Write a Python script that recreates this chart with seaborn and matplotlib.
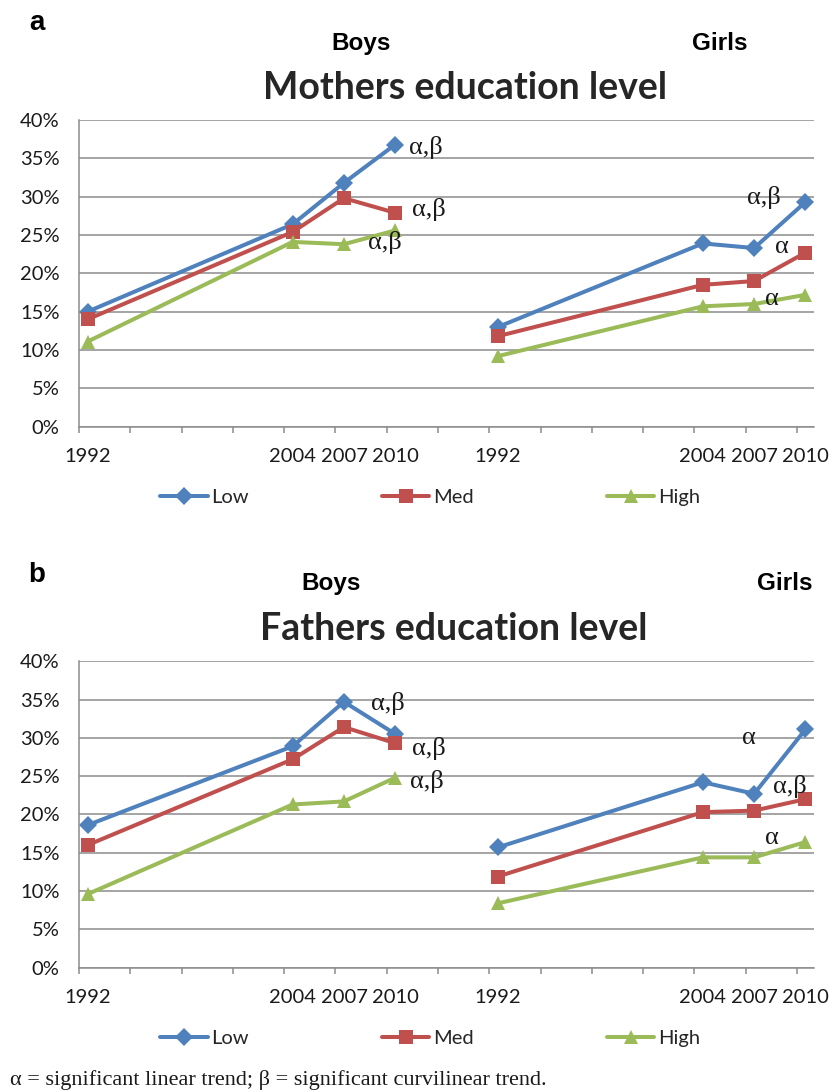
import numpy as np
import pandas as pd
import seaborn as sns
import matplotlib
matplotlib.use("Agg")
import matplotlib.pyplot as plt
from matplotlib.ticker import FuncFormatter

# survey years and education groups
years = [1992, 2004, 2007, 2010]
levels = ["Low", "Med", "High"]
girls_gap = 24  # empty stretch of the year axis between boys and girls blocks

# a: mothers education level (%)
mothers_boys_low = [15.0, 26.4, 31.8, 36.8]
mothers_boys_med = [14.0, 25.4, 29.8, 27.9]
mothers_boys_high = [11.1, 24.1, 23.8, 25.6]
mothers_girls_low = [13.0, 23.9, 23.3, 29.3]
mothers_girls_med = [11.8, 18.5, 19.0, 22.7]
mothers_girls_high = [9.2, 15.7, 16.0, 17.2]

# b: fathers education level (%)
fathers_boys_low = [18.6, 28.9, 34.7, 30.5]
fathers_boys_med = [16.0, 27.2, 31.4, 29.3]
fathers_boys_high = [9.6, 21.3, 21.7, 24.8]
fathers_girls_low = [15.7, 24.2, 22.7, 31.1]
fathers_girls_med = [11.9, 20.3, 20.5, 22.0]
fathers_girls_high = [8.4, 14.4, 14.4, 16.4]

# trend marks: (sex, level, year, text, dx, dy, ha) offsets in points
notes_a = [("Boys", "Low", 2010, "α,β", 10, -2, "left"),
           ("Boys", "Med", 2010, "α,β", 12, 2, "left"),
           ("Boys", "High", 2007, "α,β", 17, 1, "left"),
           ("Girls", "Low", 2010, "α,β", -18, 3, "right"),
           ("Girls", "Med", 2010, "α", -17, 4, "center"),
           ("Girls", "High", 2010, "α", -24, -3, "center")]
notes_b = [("Boys", "Low", 2010, "α,β", -5, 22, "center"),
           ("Boys", "Med", 2010, "α,β", 12, -4, "left"),
           ("Boys", "High", 2010, "α,β", 11, -3, "left"),
           ("Girls", "Low", 2010, "α", -41, -6, "center"),
           ("Girls", "Med", 2010, "α,β", -11, 9, "center"),
           ("Girls", "High", 2010, "α", -24, 3, "center")]


def long_table(boys, girls):
    rows = []
    for sex, series, shift in (("Boys", boys, 0), ("Girls", girls, girls_gap)):
        for level, vals in zip(levels, series):
            for yr, v in zip(years, vals):
                rows.append({"sex": sex, "level": level, "year": yr,
                             "x": yr + shift, "pct": v})
    return pd.DataFrame(rows)


df_a = long_table([mothers_boys_low, mothers_boys_med, mothers_boys_high],
                  [mothers_girls_low, mothers_girls_med, mothers_girls_high])
df_b = long_table([fathers_boys_low, fathers_boys_med, fathers_boys_high],
                  [fathers_girls_low, fathers_girls_med, fathers_girls_high])

sns.set_style("white")
plt.rcParams["font.family"] = ["Lato", "DejaVu Sans"]

palette = {"Low": "#4F81BD", "Med": "#C0504D", "High": "#9BBB59"}
markers = {"Low": "D", "Med": "s", "High": "^"}
grid_col = "#8c8c8c"
txt_col = "#1a1a1a"

W, H = 840, 1092
fig = plt.figure(figsize=(W / 100, H / 100), dpi=100)


def px(x, y):
    return x / W, 1 - y / H


ax_a = fig.add_axes([79 / W, 1 - 426.7 / H, 735 / W, 306.7 / H])
ax_b = fig.add_axes([79 / W, 1 - 967.7 / H, 735 / W, 306.5 / H])

for ax, df, notes in ((ax_a, df_a, notes_a), (ax_b, df_b, notes_b)):
    sns.lineplot(data=df, x="x", y="pct", hue="level", style="level",
                 units="sex", estimator=None, sort=False,
                 hue_order=levels, style_order=levels, palette=palette,
                 markers=markers, dashes=False, linewidth=2.9,
                 markersize=10.5, markeredgewidth=0, ax=ax)

    ax.set_xlim(1991.5, 2034.5)
    ax.set_ylim(0, 40)
    xt = years + [y + girls_gap for y in years]
    ax.set_xticks(xt)
    ax.set_xticklabels([str(y) for y in years] * 2)
    ax.set_xticks(np.arange(1991.5, 2034, 3), minor=True)
    ax.set_yticks(range(0, 41, 5))
    ax.yaxis.set_major_formatter(FuncFormatter(lambda v, p: f"{v:.0f}%"))
    ax.set_xlabel("")
    ax.set_ylabel("")

    ax.grid(axis="y", color=grid_col, linewidth=1.1)
    ax.grid(axis="x", visible=False)
    ax.set_axisbelow(True)
    for s in ("top", "right"):
        ax.spines[s].set_visible(False)
    for s in ("left", "bottom"):
        ax.spines[s].set_color(grid_col)
        ax.spines[s].set_linewidth(1.1)

    ax.tick_params(axis="y", length=5, width=1.1, color=grid_col, pad=9,
                   labelsize=14.5, labelcolor=txt_col)
    ax.tick_params(axis="x", which="major", length=0, pad=15,
                   labelsize=14.5, labelcolor=txt_col)
    ax.tick_params(axis="x", which="minor", length=4.5, width=1.1,
                   color=grid_col, bottom=True)

    for line in ax.lines:
        if line.get_marker() == "D":
            line.set_markersize(9)

    sns.move_legend(ax, "center", bbox_to_anchor=(0.478, -0.231), ncol=3,
                    frameon=False, title=None, fontsize=14.5,
                    columnspacing=6.6, handlelength=2.35, handletextpad=0.2)
    for h in ax.get_legend().legend_handles:
        if h.get_marker() == "D":
            h.set_markersize(9)

    for sex, level, yr, text, dx, dy, ha in notes:
        row = df[(df.sex == sex) & (df.level == level) & (df.year == yr)].iloc[0]
        ax.annotate(text, (row.x, row.pct), xytext=(dx, dy),
                    textcoords="offset points", ha=ha, va="center",
                    fontsize=19, family="Liberation Serif", color=txt_col)

# panel letters, sex headers and titles
bold = dict(family="Liberation Sans", weight="bold", color="black")
fig.text(*px(37, 30), "a", fontsize=20, ha="center", va="baseline", **bold)
fig.text(*px(37, 582), "b", fontsize=20, ha="center", va="baseline", **bold)
fig.text(*px(361, 50), "Boys", fontsize=17.5, ha="center", va="baseline", **bold)
fig.text(*px(720, 50), "Girls", fontsize=17.5, ha="center", va="baseline", **bold)
fig.text(*px(331, 590), "Boys", fontsize=17.5, ha="center", va="baseline", **bold)
fig.text(*px(785, 590), "Girls", fontsize=17.5, ha="center", va="baseline", **bold)
fig.text(*px(465, 99), "Mothers education level", fontsize=27, weight="bold",
         ha="center", va="baseline", family="Lato")
fig.text(*px(454, 640), "Fathers education level", fontsize=27, weight="bold",
         ha="center", va="baseline", family="Lato")

fig.text(*px(10, 1085), "α = significant linear trend; β = significant curvilinear trend.",
         fontsize=16, family="Liberation Serif", ha="left", va="baseline",
         color=txt_col)

fig.savefig("out.png", dpi=100)
